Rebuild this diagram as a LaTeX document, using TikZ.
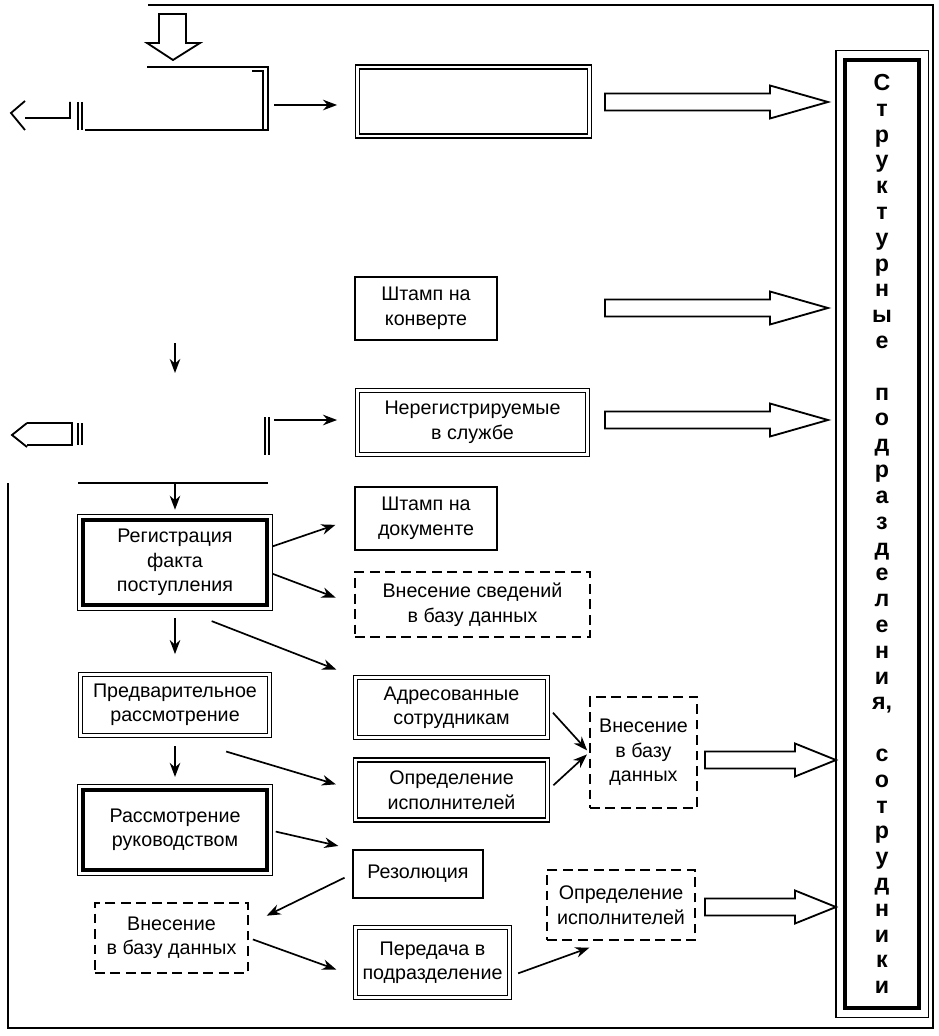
\documentclass[tikz,border=0pt]{standalone}
\usepackage{fontspec}
\setmainfont{Liberation Sans}
\usetikzlibrary{arrows.meta}
\usetikzlibrary{calc}

% hollow block arrow: start x, head x, tip x, y
\newcommand{\hollowarrow}[4]{\draw[fat] (#1,#4-8.5) -- (#2,#4-8.5) -- (#2,#4-16.5) -- (#3,#4)
	-- (#2,#4+16.5) -- (#2,#4+8.5) -- (#1,#4+8.5) -- cycle;}

\begin{document}
\begin{tikzpicture}[x=0.025cm,y=-0.025cm,>={Stealth[length=10pt,width=7.5pt]},
		font=\fontsize{14}{17.4}\selectfont]
		\tikzstyle{every node}=[align=center,inner sep=2pt]
		\tikzstyle{plain}=[draw,line width=1.3pt]
		\tikzstyle{twin}=[draw,double,double distance=1.8pt,line width=1pt]
		\tikzstyle{heavy}=[draw,line width=2.6pt]
		\tikzstyle{dashbox}=[draw,line width=1.3pt,dash pattern=on 7pt off 4pt]
		\tikzstyle{link}=[->,line width=1.2pt,shorten >=14pt,shorten <=3pt]
		\tikzstyle{frame}=[line width=1.3pt]
		\tikzstyle{fat}=[line width=1.3pt,line join=miter]
		
		\useasboundingbox (0,0) rectangle (938,1036);
		
		\node[twin,minimum width=5.8cm,minimum height=1.725cm]    (TopMid)       at (473.5,101.5) {};
		\node[plain,minimum width=3.55cm,minimum height=1.575cm]  (EnvStamp)     at (426,308.5)   {Штамп на\\конверте};
		\node[twin,minimum width=5.75cm,minimum height=1.6cm]     (Unregistered) at (472.5,422.5) {Нерегистрируемые\\в службе};
		\node[heavy,minimum width=4.6cm,minimum height=2.125cm]   (Registration) at (175,562.5)   {Регистрация\\факта\\поступления};
		\node[plain,minimum width=3.55cm,minimum height=1.575cm]  (DocStamp)     at (426,518.5)   {Штамп на\\документе};
		\node[dashbox,minimum width=5.875cm,minimum height=1.625cm] (DbInfo)     at (472.5,604.5) {Внесение сведений\\в базу данных};
		\node[twin,minimum width=4.725cm,minimum height=1.525cm]  (Preliminary)  at (175,705)     {Предварительное\\рассмотрение};
		\node[twin,minimum width=4.8cm,minimum height=1.5cm]      (Addressed)    at (451.5,707.5) {Адресованные\\сотрудникам};
		\node[twin,minimum width=4.8cm,minimum height=1.5cm]      (Executors)    at (451.5,790)   {Определение\\исполнителей};
		\node[dashbox,minimum width=2.675cm,minimum height=2.775cm] (DbMid)      at (643.5,752.5) {Внесение\\в базу\\данных};
		\node[heavy,minimum width=4.6cm,minimum height=2cm]       (Review)       at (175,830)     {Рассмотрение\\руководством};
		\node[plain,minimum width=3.25cm,minimum height=1.2cm]    (Resolution)   at (418,874)     {Резолюция};
		\node[dashbox,minimum width=3.825cm,minimum height=1.75cm] (DbLow)       at (171.5,938)   {Внесение\\в базу данных};
		\node[twin,minimum width=3.85cm,minimum height=1.75cm]    (Transfer)     at (432.5,962.5) {Передача в\\подразделение};
		\node[dashbox,minimum width=3.7cm,minimum height=1.75cm]  (ExecLow)      at (621,905)     {Определение\\исполнителей};
		\node[heavy,line width=3pt,minimum width=1.85cm,minimum height=23.7cm,
		font=\fontsize{16.5}{18.35}\selectfont\bfseries] (Units) at (882,534)
		{С\\т\\р\\у\\к\\т\\у\\р\\н\\ы\\е\\~\\п\\о\\д\\р\\а\\з\\д\\е\\л\\е\\н\\и\\я,\\~\\с\\о\\т\\р\\у\\д\\н\\и\\к\\и};
		
		% outer thin lines of the heavy boxes
		\foreach \n in {Registration,Review}
		\draw[line width=0.9pt] ([shift={(-4,-4)}]\n.north west) rectangle ([shift={(4,4)}]\n.south east);
		\draw[line width=0.9pt] ([shift={(-7,-7)}]Units.north west) rectangle ([shift={(7,7)}]Units.south east);
		
		% frame and cut-off parts
		\draw[frame] (148,5) -- (933,5) -- (933,1028) -- (8,1028) -- (8,483);
		\draw[frame] (78,483) -- (268,483);
		\draw[fat] (159,14) -- (186,14) -- (186,43) -- (200,43) -- (173,60) -- (147,43) -- (159,43) -- cycle;
		\draw[frame] (147,67) -- (268,67) -- (268,130) -- (85,130);
		\draw[frame] (252,71) -- (263,71) -- (263,130);
		\draw[frame] (78,102) -- (78,130) (82,102) -- (82,130);
		\draw[frame] (25,101) -- (11,113) -- (25,130) (25,118) -- (70,118) -- (70,102);
		\draw[frame] (27,423) -- (12,435) -- (27,447) (27,423) -- (72,423) -- (72,445) -- (27,445);
		\draw[frame] (78,423) -- (78,445) (82,423) -- (82,445);
		\draw[frame] (265,417) -- (265,455) (269,417) -- (269,455);
		
		\coordinate (TopOut)  at (270,105);
		\coordinate (RowOut)  at (270,420);
		\coordinate (MidA)    at (175,343);
		\coordinate (MidB)    at (175,373);
		\coordinate (RowDown) at (175,483);
		
		\path[link] (TopOut)  edge (TopOut -| TopMid.west)
		(RowOut)  edge (RowOut -| Unregistered.west)
		(MidA)    edge[shorten >=0pt,shorten <=0pt] (MidB)
		(RowDown) edge[shorten >=6pt,shorten <=0pt] (Registration.north)
		(Registration.9)     edge (DocStamp.west)
		(Registration.-6)    edge (DbInfo.west)
		(Registration.south) edge[shorten <=28pt] (Addressed.north west)
		(Registration.south) edge[shorten <=8pt] (Preliminary.north)
		(Preliminary.south)  edge[shorten <=38pt] (Executors.west)
		(Preliminary.south)  edge[shorten <=7pt,shorten >=8pt] (Review.north)
		(Addressed.east)     edge[shorten <=5pt,shorten >=2pt] (DbMid.west)
		(Executors.east)     edge[shorten <=5pt,shorten >=2pt] (DbMid.west)
		(Review.east)        edge[shorten <=5pt,shorten >=10pt] (Resolution.north west)
		(Resolution.west)    edge[shorten <=6pt] (DbLow.10)
		(DbLow.east)         edge (Transfer.190)
		(Transfer.-10)       edge[shorten <=6pt] (ExecLow.-110)
		;
		
		% block arrows into the units column
		\hollowarrow{605}{770}{828}{102}
		\hollowarrow{605}{770}{828}{308}
		\hollowarrow{605}{770}{828}{420}
		\hollowarrow{705}{795}{836}{760}
		\hollowarrow{705}{795}{836}{907}
\end{tikzpicture}
\end{document}
